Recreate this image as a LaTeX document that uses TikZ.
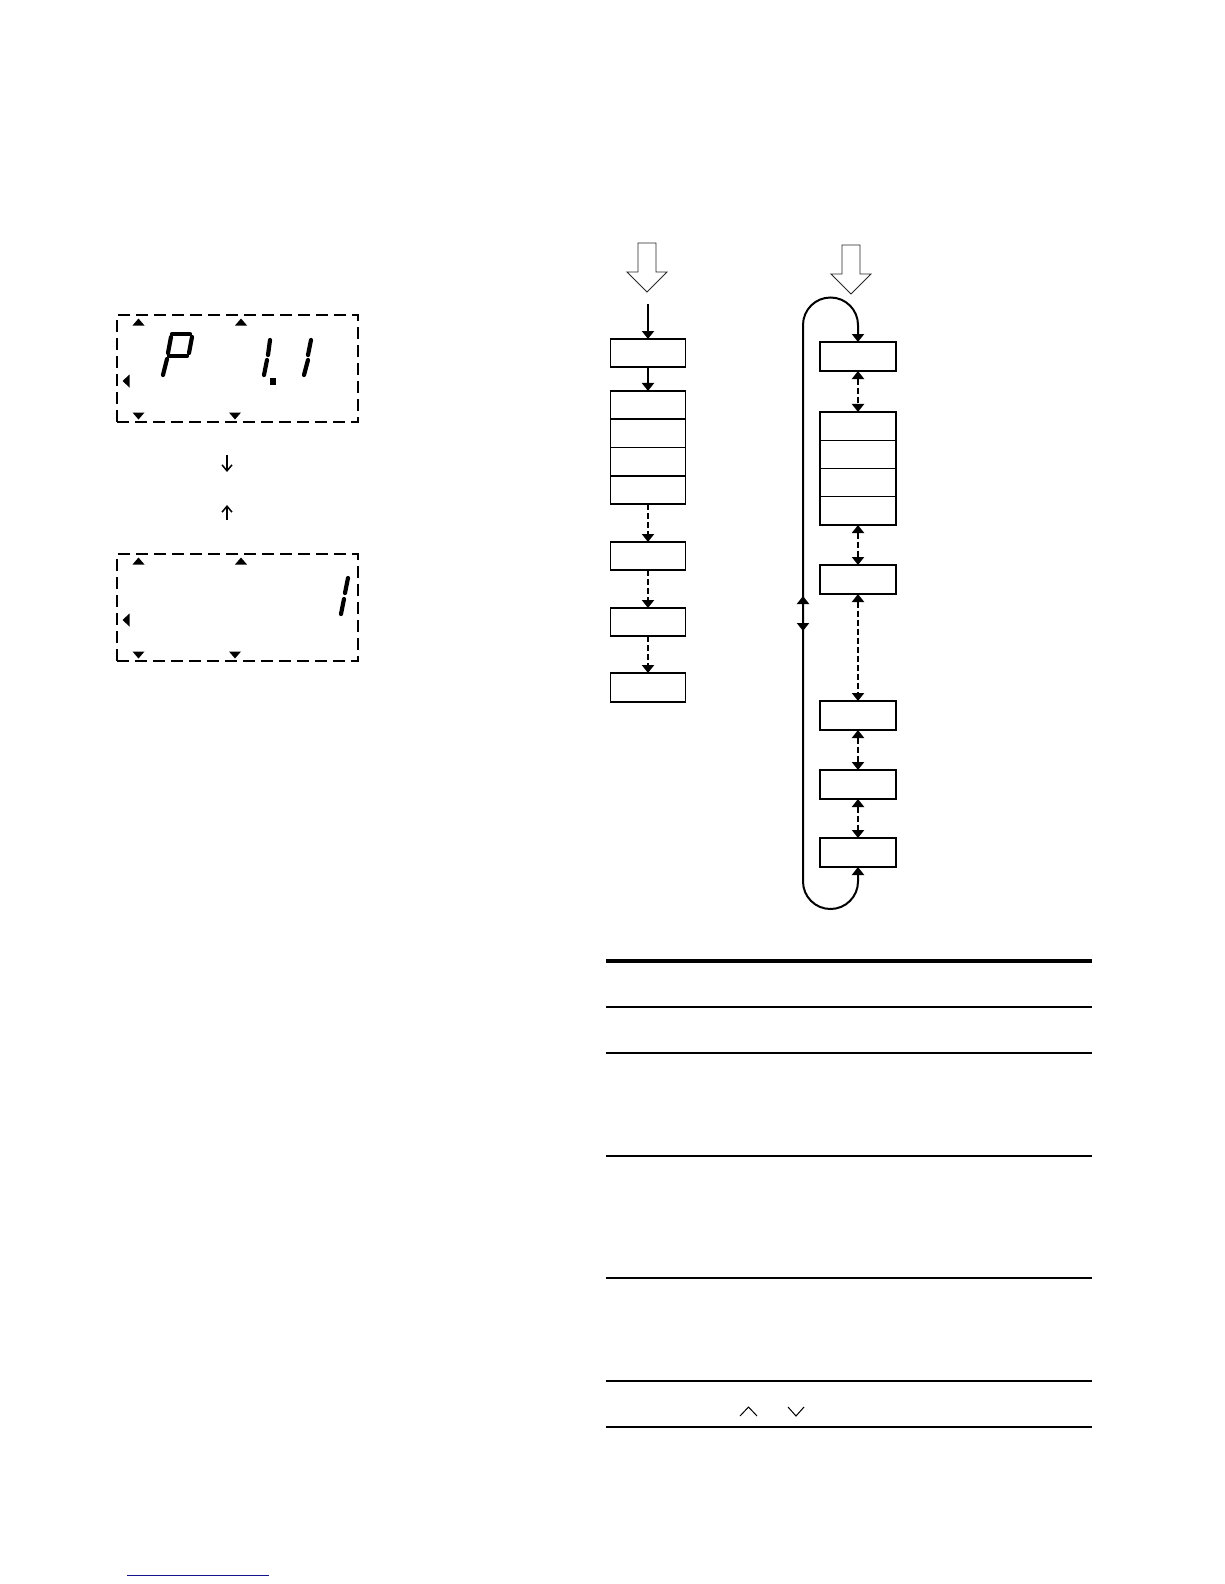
\documentclass[tikz,border=0pt]{standalone}
\usetikzlibrary{arrows.meta}
\definecolor{linkblue}{RGB}{20,20,140}
\tikzstyle{menu} = [rectangle, minimum width=75pt, minimum height=28pt, inner sep=0pt, outer sep=0pt, draw=black, line width=1.6pt]
\tikzstyle{cell} = [rectangle, minimum width=75pt, minimum height=28.25pt, inner sep=0pt, outer sep=0pt, draw=black, line width=1pt]
\tikzstyle{arrow} = [line width=2pt, -{Triangle[length=8pt,width=12pt]}]
\tikzstyle{dasharrow} = [line width=2pt, dash pattern=on 6pt off 3pt, -{Triangle[length=8pt,width=12pt]}]
\tikzstyle{dualarrow} = [line width=2pt, dash pattern=on 6pt off 3pt, {Triangle[length=8pt,width=12pt]}-{Triangle[length=8pt,width=12pt]}]
\tikzstyle{loopline} = [line width=2pt]
\tikzstyle{hollow} = [draw=black!85, line width=0.9pt, fill=white]
\tikzstyle{lcd} = [rectangle, draw=black, line width=1.3pt, dash pattern=on 12pt off 6pt, inner sep=0pt]
\tikzstyle{seg} = [line width=4.2pt, line cap=round]
\tikzstyle{thin} = [line width=1.5pt, -{Straight Barb[length=6pt,width=10pt]}]
\tikzstyle{tablerule} = [line width=1.3pt]

\begin{document}
\begin{tikzpicture}[x=1pt, y=-1pt]
			\useasboundingbox (0,0) rectangle (1224,1584);

			% display, upper
			\node (lcdA) [lcd, minimum width=241pt, minimum height=107pt] at (237.5,368.5) {};
			\fill (132.5,325.5) -- (144.5,325.5) -- (138.5,318.5) -- cycle;
			\fill (235,325.5) -- (247,325.5) -- (241,318.5) -- cycle;
			\fill (132.5,412.5) -- (144.5,412.5) -- (138.5,419.5) -- cycle;
			\fill (229,412.5) -- (241,412.5) -- (235,419.5) -- cycle;
			\fill (129.5,374.5) -- (129.5,387.5) -- (122.5,381) -- cycle;
			\draw [seg] (172,334) -- (190,334);
			\draw [seg] (171,337) -- (168,353);
			\draw [seg] (169,356) -- (187,356);
			\draw [seg] (192,337) -- (189,353);
			\draw [seg] (167,359) -- (163,375);
			\draw [seg] (270,340) -- (268,355);
			\draw [seg] (267,360) -- (264,375);
			\fill (270,378) rectangle (276,384.5);
			\draw [seg] (311,340) -- (308,355);
			\draw [seg] (308,360) -- (304,375);

			% display, lower
			\node (lcdB) [lcd, minimum width=241pt, minimum height=107pt] at (237.5,607.5) {};
			\fill (132.5,564.5) -- (144.5,564.5) -- (138.5,557.5) -- cycle;
			\fill (235,564.5) -- (247,564.5) -- (241,557.5) -- cycle;
			\fill (132.5,651.5) -- (144.5,651.5) -- (138.5,658.5) -- cycle;
			\fill (229,651.5) -- (241,651.5) -- (235,658.5) -- cycle;
			\fill (129.5,613.5) -- (129.5,626.5) -- (122.5,620) -- cycle;
			\draw [seg] (348,578) -- (345,593);
			\draw [seg] (344,599) -- (341,614);

			\coordinate (dnA) at (227,455);
			\coordinate (dnB) at (227,472);
			\coordinate (upA) at (227,520);
			\coordinate (upB) at (227,505);
			\draw [thin] (dnA) -- (dnB);
			\draw [thin] (upA) -- (upB);

			% left menu
			\draw [hollow] (638,243) -- (656,243) -- (656,272) -- (667,272) -- (647,292) -- (627,272) -- (638,272) -- cycle;
			\coordinate (startL) at (648,304);
			\node (L1) [menu] at (648,353) {};
			\node (L2a) [menu, minimum height=28.25pt] at (648,405.1) {};
			\node (L2b) [menu, minimum height=28.25pt] at (648,433.4) {};
			\node (L2c) [menu, minimum height=28.25pt] at (648,461.6) {};
			\node (L2d) [menu, minimum height=28.25pt] at (648,489.9) {};
			\node (L3) [menu] at (648,556) {};
			\node (L4) [menu] at (648,622) {};
			\node (L5) [menu, minimum height=29pt] at (648,687.5) {};

			\draw [arrow] (startL) -- (L1);
			\draw [arrow] (L1) -- (L2a);
			\draw [dasharrow] (L2d) -- (L3);
			\draw [dasharrow] (L3) -- (L4);
			\draw [dasharrow] (L4) -- (L5);

			% right menu
			\draw [hollow] (842,245) -- (860,245) -- (860,274) -- (871,274) -- (851,294) -- (831,274) -- (842,274) -- cycle;
			\node (R1) [menu, minimum width=76pt, minimum height=29pt] at (858,356.5) {};
			\node (R2a) [cell, minimum width=76pt] at (858,426.1) {};
			\node (R2b) [cell, minimum width=76pt] at (858,454.4) {};
			\node (R2c) [cell, minimum width=76pt] at (858,482.6) {};
			\node (R2d) [cell, minimum width=76pt] at (858,510.9) {};
			\draw [line width=1.8pt] (R2a.north west) rectangle (R2d.south east);
			\node (R3) [menu, minimum width=76pt, minimum height=29pt] at (858,579.5) {};
			\node (R4) [menu, minimum width=76pt, minimum height=29pt] at (858,715.5) {};
			\node (R5) [menu, minimum width=76pt, minimum height=29pt] at (858,784.5) {};
			\node (R6) [menu, minimum width=76pt, minimum height=29pt] at (858,852.5) {};

			\draw [dualarrow] (R1) -- (R2a);
			\draw [dualarrow] (R2d) -- (R3);
			\draw [dualarrow] (R3) -- (R4);
			\draw [dualarrow] (R4) -- (R5);
			\draw [dualarrow] (R5) -- (R6);

			\draw [loopline, {Triangle[length=8pt,width=12pt]}-{Triangle[length=8pt,width=12pt]}] (R6.south) -- ++(0,14.5) arc[start angle=0, end angle=180, radius=27.5] -- ++(0,-556.5) arc[start angle=180, end angle=360, radius=27.5] -- (R1.north);
			\coordinate (loopmid) at (803,613.5);
			\draw [arrow] (loopmid) -- ++(0,-17.5);
			\draw [arrow] (loopmid) -- ++(0,17.5);

			% table
			\draw [line width=4pt] (606,961) -- (1092,961);
			\draw [tablerule] (606,1007) -- (1092,1007);
			\draw [tablerule] (606,1053) -- (1092,1053);
			\draw [tablerule] (606,1156) -- (1092,1156);
			\draw [tablerule] (606,1278) -- (1092,1278);
			\draw [tablerule] (606,1381) -- (1092,1381);
			\draw [tablerule] (606,1427) -- (1092,1427);
			\draw [line width=1pt] (740,1416) -- (748.5,1407) -- (757,1416);
			\draw [line width=1pt] (788,1407) -- (796,1416) -- (804,1407);

			\draw [linkblue, line width=1pt] (127,1575) -- (269,1575);
		\end{tikzpicture}
\end{document}
